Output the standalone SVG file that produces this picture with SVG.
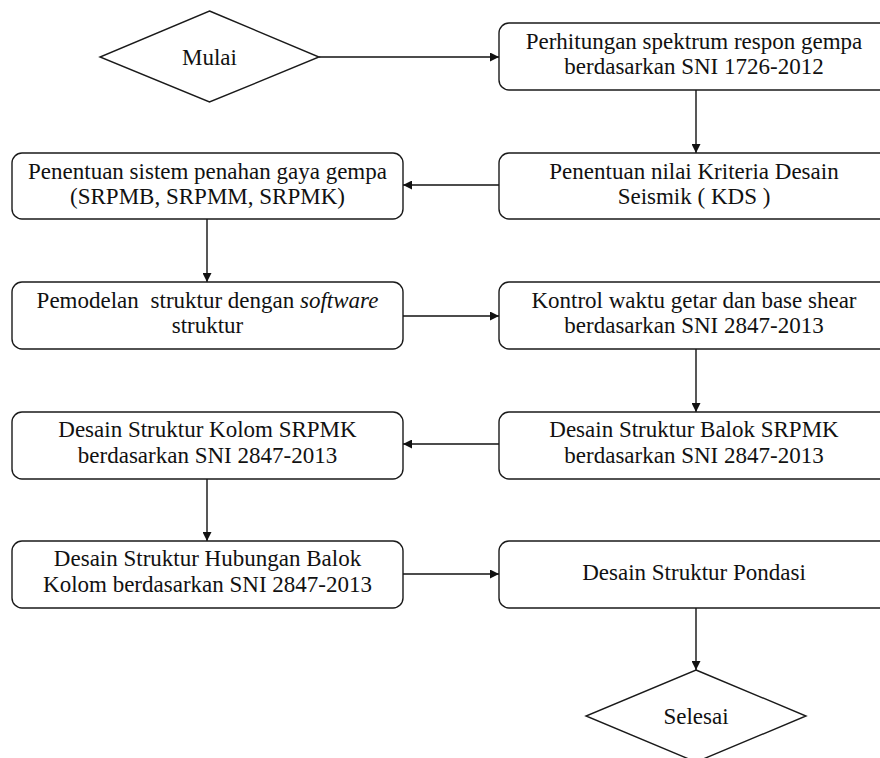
<svg xmlns="http://www.w3.org/2000/svg" width="880" height="758" viewBox="0 0 880 758">
<defs>
<style>
.box{fill:#fff;stroke:#1a1a1a;stroke-width:1.4}
.t{font-family:"Liberation Serif","Times New Roman",Times,"Noto Serif","DejaVu Serif",serif;font-size:23px;fill:#111;text-anchor:middle}
.c{fill:none;stroke:#111;stroke-width:1.4}
</style>
<marker id="ah" viewBox="0 0 10 10" refX="10" refY="5" markerWidth="9" markerHeight="9" markerUnits="userSpaceOnUse" orient="auto">
<path d="M0,0 L10,5 L0,10 Z" fill="#111"/>
</marker>
</defs>
<rect width="880" height="758" fill="#fff"/>
<g id="connectors">
<line class="c" x1="319" y1="57" x2="499" y2="57" marker-end="url(#ah)"/>
<line class="c" x1="696" y1="90" x2="696" y2="153" marker-end="url(#ah)"/>
<line class="c" x1="499" y1="185" x2="403" y2="185" marker-end="url(#ah)"/>
<line class="c" x1="207" y1="219" x2="207" y2="282" marker-end="url(#ah)"/>
<line class="c" x1="403" y1="316" x2="499" y2="316" marker-end="url(#ah)"/>
<line class="c" x1="696" y1="349" x2="696" y2="412" marker-end="url(#ah)"/>
<line class="c" x1="499" y1="444" x2="403" y2="444" marker-end="url(#ah)"/>
<line class="c" x1="207" y1="479" x2="207" y2="541" marker-end="url(#ah)"/>
<line class="c" x1="403" y1="574" x2="499" y2="574" marker-end="url(#ah)"/>
<line class="c" x1="696" y1="608" x2="696" y2="670" marker-end="url(#ah)"/>
</g>
<g id="mulai">
<polygon class="box" points="209.5,11 319,57 209.5,102 100,57"/>
<text class="t" x="209.5" y="65">Mulai</text>
</g>
<g id="perhitungan">
<rect class="box" x="499" y="23" width="390" height="67" rx="10"/>
<text class="t" x="694" y="49">Perhitungan spektrum respon gempa</text>
<text class="t" x="694" y="74">berdasarkan SNI 1726-2012</text>
</g>
<g id="kds">
<rect class="box" x="499" y="153" width="390" height="66" rx="10"/>
<text class="t" x="694" y="179">Penentuan nilai Kriteria Desain</text>
<text class="t" x="694" y="204">Seismik ( KDS )</text>
</g>
<g id="sistem">
<rect class="box" x="12" y="153" width="391" height="66" rx="10"/>
<text class="t" x="207.5" y="179">Penentuan sistem penahan gaya gempa</text>
<text class="t" x="207.5" y="204">(SRPMB, SRPMM, SRPMK)</text>
</g>
<g id="pemodelan">
<rect class="box" x="12" y="282" width="391" height="67" rx="10"/>
<text class="t" x="207.5" y="308">Pemodelan <tspan dx="6">struktur dengan </tspan><tspan font-style="italic">software</tspan></text>
<text class="t" x="207.5" y="333">struktur</text>
</g>
<g id="kontrol">
<rect class="box" x="499" y="282" width="390" height="67" rx="10"/>
<text class="t" x="694" y="308">Kontrol waktu getar dan base shear</text>
<text class="t" x="694" y="333">berdasarkan SNI 2847-2013</text>
</g>
<g id="balok">
<rect class="box" x="499" y="412" width="390" height="67" rx="10"/>
<text class="t" x="694" y="437">Desain Struktur Balok SRPMK</text>
<text class="t" x="694" y="463">berdasarkan SNI 2847-2013</text>
</g>
<g id="kolom">
<rect class="box" x="12" y="412" width="391" height="67" rx="10"/>
<text class="t" x="207.5" y="437">Desain Struktur Kolom SRPMK</text>
<text class="t" x="207.5" y="463">berdasarkan SNI 2847-2013</text>
</g>
<g id="hubungan">
<rect class="box" x="12" y="541" width="391" height="67" rx="10"/>
<text class="t" x="207.5" y="566">Desain Struktur Hubungan Balok</text>
<text class="t" x="207.5" y="592">Kolom berdasarkan SNI 2847-2013</text>
</g>
<g id="pondasi">
<rect class="box" x="499" y="541" width="390" height="67" rx="10"/>
<text class="t" x="694" y="580">Desain Struktur Pondasi</text>
</g>
<g id="selesai">
<polygon class="box" points="696,670 806,716 696,762 586,716"/>
<text class="t" x="696" y="724">Selesai</text>
</g>
</svg>
